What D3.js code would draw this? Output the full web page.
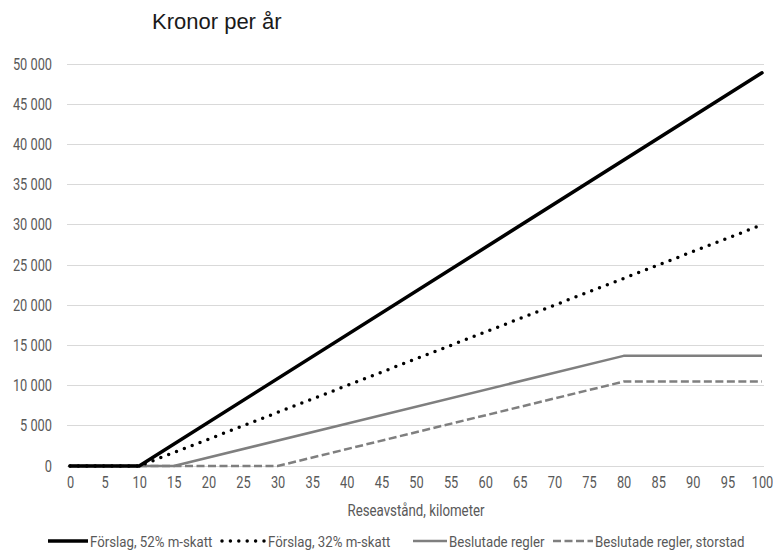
<!DOCTYPE html>
<html><head><meta charset="utf-8">
<script src="https://cdn.jsdelivr.net/npm/d3@7"></script>
<style>
body{margin:0;background:#fff;}
svg{display:block;}
.cond{font-family:Roboto,"Liberation Sans",sans-serif;}
</style></head>
<body><svg id="c" width="773" height="560"></svg>
<script>
const xTicks = d3.range(0, 101, 5);
const yTicks = [0, 5000, 10000, 15000, 20000, 25000, 30000, 35000, 40000, 45000, 50000];
const seriesNames = ["Förslag, 52% m-skatt", "Förslag, 32% m-skatt", "Beslutade regler", "Beslutade regler, storstad"];
const s52 = [[0,0],[10,0],[100,48900]];
const s32 = [[0,0],[10,0],[100,30000]];
const sBes = [[0,0],[15,0],[80,13700],[100,13700]];
const sStor = [[0,0],[30,0],[80,10500],[100,10500]];
const titleText = "Kronor per år";
const xTitle = "Reseavstånd, kilometer";

const SX = 0.8;
const svg = d3.select("#c");
const x = d3.scaleLinear().domain([0,100]).range([70,762]);
const y = d3.scaleLinear().domain([0,50000]).range([466,64]);
const fmt = v => v === 0 ? "0" : d3.format(",")(v).replace(/,/g, " ");

svg.append("text").attr("x",152).attr("y",29).attr("font-family","Liberation Sans, Arial, sans-serif")
  .attr("font-size",22).attr("fill","#1a1a1a").text(titleText);

// gridlines
svg.append("g").selectAll("line").data(yTicks).join("line")
  .attr("x1",67).attr("x2",764).attr("y1",d=>y(d)).attr("y2",d=>y(d))
  .attr("stroke","#d9d9d9").attr("stroke-width",1).attr("shape-rendering","crispEdges");

const yAxis = svg.append("g").attr("transform","translate(52,0)")
  .call(d3.axisLeft(y).tickValues(yTicks).tickFormat(fmt).tickSize(0).tickPadding(0));
yAxis.select(".domain").remove();
yAxis.selectAll("text").attr("class","cond").attr("font-size",16).attr("fill","#595959")
  .attr("transform",`scale(${SX},1)`);

const xAxis = svg.append("g").attr("transform","translate(0,477)")
  .call(d3.axisBottom(x).tickValues(xTicks).tickFormat(d=>d).tickSize(0).tickPadding(0));
xAxis.select(".domain").remove();
xAxis.selectAll("text").attr("class","cond").attr("font-size",16).attr("fill","#595959")
  .attr("transform",`scale(${SX},1)`);

svg.append("text").attr("class","cond").attr("transform",`translate(416,516) scale(0.83,1)`)
  .attr("text-anchor","middle").attr("font-size",16).attr("fill","#595959").text(xTitle);

const line = d3.line().x(d=>x(d[0])).y(d=>y(d[1]));
const styles = [
  {data:s52, stroke:"#000", w:3.5, dash:null, cap:"round", lx:[48,88], tx:90},
  {data:s32, stroke:"#000", w:3.5, dash:"0,8.4", cap:"round", lx:[222,265], tx:268},
  {data:sBes, stroke:"#7f7f7f", w:2.5, dash:null, cap:"butt", lx:[413,447], tx:449},
  {data:sStor, stroke:"#7f7f7f", w:2.5, dash:"8,3.5", cap:"butt", lx:[553,593], tx:595}
];
[3,2,1,0].forEach(i=>{
  const s = styles[i];
  svg.append("path").datum(s.data).attr("d",line).attr("fill","none")
    .attr("stroke",s.stroke).attr("stroke-width",s.w).attr("stroke-linecap",s.cap)
    .attr("stroke-linejoin","round").attr("stroke-dasharray",s.dash);
});

// legend
const leg = svg.append("g");
seriesNames.forEach((n,i)=>{
  const s = styles[i];
  leg.append("line").attr("x1",s.lx[0]).attr("x2",s.lx[1]).attr("y1",541).attr("y2",541)
    .attr("stroke",s.stroke).attr("stroke-width",s.w).attr("stroke-linecap",s.dash?s.cap:"butt")
    .attr("stroke-dasharray",s.dash);
  leg.append("text").attr("class","cond").attr("transform",`translate(${s.tx},547) scale(0.855,1)`)
    .attr("font-size",15.5).attr("fill","#595959").text(n);
});
</script></body></html>
